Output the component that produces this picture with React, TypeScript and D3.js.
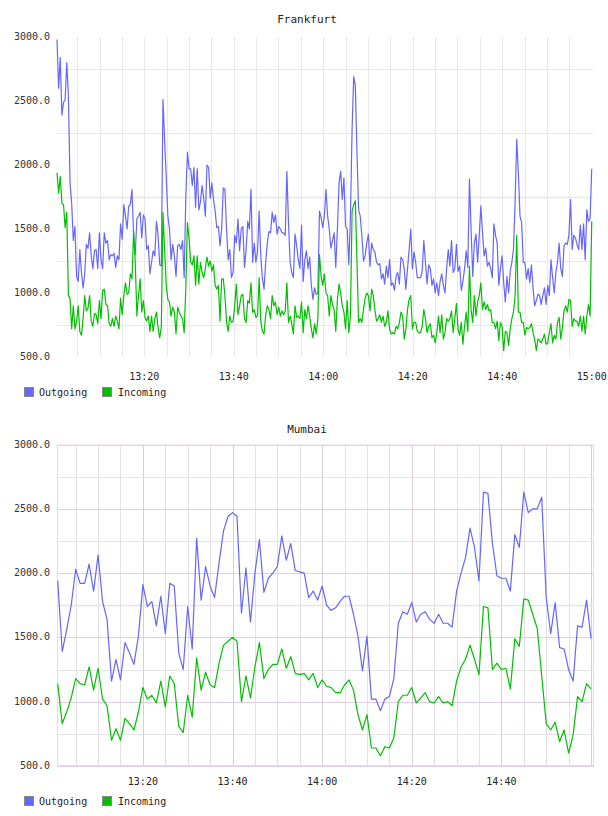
import React from "react";
import * as d3 from "d3";

// ---------- data ----------
const legendLabels = ["Outgoing", "Incoming"];
const yTickValues = [3000, 2500, 2000, 1500, 1000, 500];
const yMinorValues = [2750, 2250, 1750, 1250, 750];

// Frankfurt: samples evenly spaced from 13:00:30 to 15:00:00
const frankfurtStart = "13:00:30";
const frankfurtEnd = "15:00:00";
const frankfurtOutgoing = [
  2980,2600,2840,2390,2490,2510,2800,2540,1860,1700,
  1410,1520,1130,1090,1340,1160,1040,1150,1380,1350,
  1470,1290,1190,1330,1340,1190,1470,1260,1190,1470,
  1390,1410,1260,1300,1290,1310,1200,1290,1260,1540,
  1420,1690,1600,1500,1680,1690,1810,1450,1300,1580,
  1600,1630,1430,1610,1580,1340,1370,1150,1240,1330,
  1290,1560,1450,1220,1210,2510,2200,1910,1600,1500,
  1260,1380,1290,1130,1370,1380,1340,1410,1120,1740,
  2100,1970,1970,1840,1980,1670,1970,1650,1710,1840,
  1740,1600,2000,1980,1740,1860,1730,1640,1510,1520,
  1370,1500,1820,1810,1500,1260,1340,1120,1160,1450,1390,
  1580,1330,1500,1520,1200,1340,1560,1500,1810,
  1240,1390,1240,1320,1640,1290,1110,1030,1240,1390,
  1480,1470,1630,1550,1610,1460,1520,1500,1470,1470,
  1450,1950,1550,1240,1160,1120,1460,1370,1260,1190,
  1530,1090,1260,1330,1190,1280,1060,950,1040,990,
  1000,1640,1590,1510,1600,1810,1600,1500,1350,1410,
  1470,1200,1500,1860,1950,1730,1900,1520,1500,1220,
  1600,2280,2690,2620,2100,1650,1600,1450,1250,1290,
  1390,1460,1210,1390,1340,1320,1240,1220,1230,1110,
  1150,1070,1210,1120,1260,1060,1080,1020,1130,1160,
  1070,1280,1260,1190,1030,1190,1340,1500,1190,1320,
  1240,1120,1120,
  1120,1170,1410,1240,1070,1220,1190,1060,1110,1000,
  1080,980,1090,1150,1060,1000,1190,1340,1210,1410,
  1160,1190,1380,1170,1210,1020,1090,1190,1330,1200,
  1890,1500,1130,1390,1460,1240,1450,1680,1470,1290,
  1350,1210,1240,1190,1120,1540,1450,1390,1060,1190,
  1290,1080,930,1130,1000,1170,1240,1340,1710,2200,
  1940,1600,1550,1240,1240,1110,1190,1080,1220,1040,
  900,940,990,980,910,980,1040,910,1060,980,
  1260,1120,1000,1160,1240,1390,1190,1130,1370,1390,
  1380,1450,1730,1340,1450,1430,1380,1340,1530,1340,
  1540,1260,1650,1560,1580,1970,
];
const frankfurtIncoming = [
  1940,1780,1910,1700,1690,1510,1630,980,960,720,
  900,720,770,900,700,670,800,980,860,880,
  980,780,740,840,830,760,940,800,1020,1030,
  910,900,760,740,800,740,820,780,720,960,
  830,980,1080,990,1000,1150,1110,1480,1240,820,
  980,1110,850,940,810,780,820,700,820,700,
  800,850,730,650,740,1630,1340,1060,950,930,
  820,890,850,680,890,850,820,800,690,1030,
  1550,1430,1240,1220,1290,1060,1290,1070,1240,1160,
  1120,1190,1280,1210,1250,1170,1220,1060,1030,1060,
  780,1110,1110,980,770,700,820,770,780,900,
  1070,830,900,980,990,800,770,940,920,
  1080,850,870,810,820,1120,780,700,680,830,
  900,870,800,980,900,930,830,890,820,860,
  830,860,1080,770,820,760,680,900,810,820,
  800,930,690,870,800,900,820,720,650,760,
  680,800,1300,1130,1060,1150,1000,980,820,980,
  910,870,700,950,1070,1000,900,850,720,940,
  690,820,1640,1690,1720,1240,770,800,770,870,
  960,1000,980,860,1030,980,870,780,800,830,
  770,820,740,770,860,720,680,690,680,740,
  720,770,850,820,640,720,870,950,980,720,
  770,770,700,690,
  690,740,870,800,690,740,760,650,670,610,
  690,820,690,830,640,690,800,780,800,860,
  690,800,920,720,670,770,600,740,850,700,
  1210,870,770,980,820,930,980,1080,870,930,
  870,910,860,870,770,770,720,780,630,770,
  740,550,700,690,590,720,800,850,980,1450,
  850,850,770,770,670,730,720,730,760,690,
  640,550,640,630,610,640,680,600,610,690,
  760,610,670,640,770,810,640,730,860,900,
  850,950,940,740,800,780,780,740,820,700,
  820,680,820,910,820,1560,
];

// Mumbai: one sample per minute from 13:01
const mumbaiStart = "13:01:00";
const mumbaiOutgoing = [
  1940,1390,1560,1750,2030,1920,1920,2070,1860,2140,1780,1640,1160,1330,1170,1460,1380,1290,1510,1910,
  1740,1780,1590,1820,1530,1920,1900,1380,1250,1740,1410,2270,1790,2050,1900,1810,2080,2330,2440,2470,2440,
  1690,2040,1620,2000,2260,1850,1960,2000,2050,2290,2100,2230,2020,2010,2000,1810,1860,1790,1900,1750,
  1710,1730,1780,1820,1820,1680,1510,1240,1510,1020,1020,930,1020,1040,1180,1610,1700,1680,1770,1620,1680,
  1700,1640,1610,1680,1610,1610,1580,1860,2000,2120,2350,2200,1940,2630,2620,2230,1980,1960,1960,1860,
  2300,2200,2630,2470,2500,2500,2590,1810,1530,1770,1420,1410,1250,1160,1590,1580,1790,1490,
];
const mumbaiIncoming = [
  1140,830,920,1030,1180,1140,1130,1270,1090,1260,1020,970,700,790,700,870,830,780,920,1110,
  1020,1050,990,1160,960,1200,1140,810,760,1050,880,1340,1090,1230,1130,1110,1300,1440,1470,1500,1470,
  1000,1200,1030,1270,1460,1180,1250,1290,1290,1410,1260,1350,1220,1210,1220,1170,1220,1110,1170,1120,
  1110,1070,1070,1130,1170,1090,900,780,900,640,640,580,650,640,720,1000,1050,1050,1110,990,1030,
  1070,1000,990,1040,990,1000,970,1160,1270,1330,1440,1330,1210,1740,1730,1250,1300,1250,1260,1100,
  1490,1430,1800,1790,1680,1570,1200,830,780,840,690,780,600,740,1040,1000,1140,1100,
];

// ---------- helpers ----------
const BLUE = "#6666ff";
const GREEN = "#00c000";
const FONT = "'DejaVu Sans Mono', monospace";
const parseT = (s: string) => {
  const [h, m, sec] = s.split(":").map(Number);
  return new Date(2020, 0, 1, h, m, sec);
};
const fmt = d3.timeFormat("%H:%M");

function evenTimes(start: Date, end: Date, n: number) {
  const sc = d3.scaleLinear().domain([0, n - 1]).range([+start, +end]);
  return d3.range(n).map((i) => new Date(sc(i)));
}
function minuteTimes(start: Date, n: number) {
  return d3.range(n).map((i) => d3.timeMinute.offset(start, i));
}

type ChartProps = {
  title: string;
  titleY: number;
  top: number;
  bottom: number;
  left: number;
  right: number;
  domain: [Date, Date];
  series: { times: Date[]; values: number[]; color: string }[];
  fancy: boolean;
  labelY: number;
  legendY: number;
  maxLabel: Date;
};

function Chart(p: ChartProps) {
  const x = d3.scaleTime().domain(p.domain).range([p.left, p.right]);
  const y = d3.scaleLinear().domain([500, 3000]).range([p.bottom, p.top]);
  const fiveMin = d3.timeMinute.every(5)!.range(p.domain[0], p.domain[1]).filter((d) => x(d) < p.right - 1.5);
  const labels = d3.timeMinute.every(20)!.range(p.domain[0], p.domain[1]).filter((d) => +d <= +p.maxLabel);
  const isMajor = (d: Date) => d.getMinutes() % 20 === 0;
  const line = d3.line<[Date, number]>().x((d) => x(d[0])).y((d) => y(d[1]));

  const minorV = p.fancy ? "#e6e0e6" : "#e8e8e8";
  const majorV = p.fancy ? "#dfc8df" : "#e8e8e8";
  const minorH = p.fancy ? "#e6e3e6" : "#e8e8e8";
  const majorH = "#e4cce4";

  return (
    <g>
      <text x={307} y={p.titleY} textAnchor="middle" dominantBaseline="middle" fontFamily={FONT} fontSize={11} fill="#222">
        {p.title}
      </text>
      {fiveMin.map((d, i) => (
        <line key={"v" + i} x1={Math.round(x(d)) + 0.5} x2={Math.round(x(d)) + 0.5} y1={p.top} y2={p.bottom}
          stroke={isMajor(d) ? majorV : minorV} strokeWidth={1} />
      ))}
      {yMinorValues.map((v) => (
        <line key={"h" + v} x1={p.left} x2={p.right} y1={Math.round(y(v)) + 0.5} y2={Math.round(y(v)) + 0.5}
          stroke={minorH} strokeWidth={v === 1750 ? 1.6 : 1} />
      ))}
      {p.fancy &&
        yTickValues.map((v) => (
          <line key={"hm" + v} x1={p.left} x2={p.right} y1={Math.round(y(v)) + 0.5} y2={Math.round(y(v)) + 0.5}
            stroke={majorH} strokeWidth={1} />
        ))}
      {p.fancy && (
        <rect x={p.left + 0.5} y={p.top + 0.5} width={p.right - p.left - 1} height={p.bottom - p.top - 1}
          fill="none" stroke="#ebd7eb" strokeWidth={1} />
      )}
      {p.series.map((s, i) => (
        <path key={"s" + i} d={line(s.times.map((t, j) => [t, s.values[j]] as [Date, number])) || ""}
          fill="none" stroke={s.color} strokeWidth={1.2} strokeLinejoin="round" />
      ))}
      {yTickValues.map((v) => (
        <text key={"yl" + v} x={50} y={y(v)} textAnchor="end" dominantBaseline="middle" fontFamily={FONT} fontSize={10} fill="#333">
          {v.toFixed(1)}
        </text>
      ))}
      {labels.map((d, i) => (
        <text key={"xl" + i} x={x(d)} y={p.labelY} textAnchor="middle" dominantBaseline="middle" fontFamily={FONT} fontSize={10} fill="#222">
          {fmt(d)}
        </text>
      ))}
      {legendLabels.map((l, i) => (
        <g key={"lg" + i}>
          <rect x={24.5 + i * 78} y={p.legendY - 4.5} width={9} height={9} fill={[BLUE, GREEN][i]} stroke="#888" strokeWidth={1} />
          <text x={39 + i * 79} y={p.legendY + 0.5} dominantBaseline="middle" fontFamily={FONT} fontSize={10} fill="#222">
            {l}
          </text>
        </g>
      ))}
    </g>
  );
}

export default function App() {
  const fS = parseT(frankfurtStart);
  const fE = parseT(frankfurtEnd);
  const mS = parseT(mumbaiStart);
  const fOutT = evenTimes(fS, fE, frankfurtOutgoing.length);
  const fInT = evenTimes(fS, fE, frankfurtIncoming.length);
  const mOutT = minuteTimes(mS, mumbaiOutgoing.length);
  const mInT = minuteTimes(mS, mumbaiIncoming.length);

  return (
    <svg width={608} height={816} style={{ position: "absolute", left: 0, top: 0, display: "block", background: "#fff" }}>
      <Chart
        title="Frankfurt" titleY={20} top={37} bottom={357} left={57} right={593}
        domain={[parseT("13:00:30"), parseT("15:00:17")]}
        series={[
          { times: fOutT, values: frankfurtOutgoing, color: BLUE },
          { times: fInT, values: frankfurtIncoming, color: GREEN },
        ]}
        fancy={false} labelY={377} legendY={392} maxLabel={parseT("15:00:00")}
      />
      <Chart
        title="Mumbai" titleY={430} top={444.5} bottom={766} left={57} right={594}
        domain={[parseT("13:00:50"), parseT("15:00:40")]}
        series={[
          { times: mOutT, values: mumbaiOutgoing, color: BLUE },
          { times: mInT, values: mumbaiIncoming, color: GREEN },
        ]}
        fancy={true} labelY={782} legendY={801} maxLabel={parseT("14:40:00")}
      />
    </svg>
  );
}
